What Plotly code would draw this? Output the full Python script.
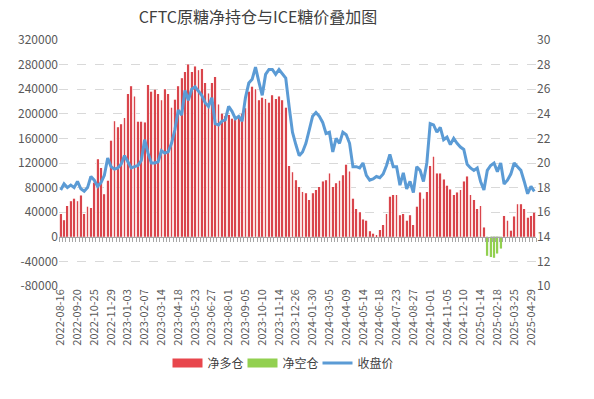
import plotly.graph_objects as go

# ---- data ----
date_labels = [
    "2022-08-16", "2022-09-20", "2022-10-25", "2022-11-29", "2023-01-03",
    "2023-02-07", "2023-03-14", "2023-04-18", "2023-05-23", "2023-06-27",
    "2023-08-01", "2023-09-05", "2023-10-10", "2023-11-14", "2023-12-26",
    "2024-01-30", "2024-03-05", "2024-04-09", "2024-05-14", "2024-06-18",
    "2024-07-23", "2024-08-27", "2024-10-01", "2024-11-05", "2024-12-10",
    "2025-01-14", "2025-02-18", "2025-03-25", "2025-04-29",
]

net_position = [
    37000, 27000, 50000, 58000, 62000, 58000, 67000, 37000, 49000, 47000,
    88000, 126000, 112000, 69000, 91000, 156000, 188000, 178000, 183000, 193000,
    232000, 245000, 228000, 187000, 187000, 186000, 247000, 236000, 239000, 232000,
    222000, 240000, 232000, 210000, 223000, 245000, 258000, 268000, 280000, 268000,
    277000, 271000, 273000, 250000, 233000, 250000, 260000, 215000, 200000, 196000,
    198000, 192000, 190000, 195000, 200000, 209000, 236000, 244000, 240000, 222000,
    226000, 224000, 218000, 230000, 224000, 228000, 222000, 210000, 115000, 105000,
    92000, 81000, 73000, 71000, 60000, 71000, 76000, 81000, 90000, 92000,
    103000, 81000, 87000, 91000, 100000, 117000, 106000, 62000, 45000, 40000,
    28000, 26000, 9000, 5000, 2000, 11000, 19000, 37000, 65000, 68000,
    68000, 35000, 37000, 26000, 35000, 19000, 49000, 72000, 62000, 73000,
    115000, 130000, 103000, 103000, 93000, 83000, 77000, 68000, 72000, 76000,
    90000, 98000, 68000, 60000, 45000, 50000, 15000, -31000, -33000, -34000,
    -27000, -19000, 34000, 26000, 10000, 33000, 53000, 53000, 45000, 31000,
    34000, 39000,
]

close_price = [
    17.8, 18.3, 18.0, 18.2, 18.0, 18.5, 17.9, 17.7, 18.0, 18.9,
    18.6, 18.1, 18.4, 19.0, 20.4, 19.7, 19.5, 19.6, 19.9, 20.6,
    20.1, 19.6, 19.7, 19.8, 20.2, 21.9, 20.8, 20.0, 20.0, 20.1,
    21.0, 20.8, 20.9, 21.6, 22.7, 24.3, 23.9, 25.9, 25.1, 26.0,
    26.2, 25.8, 25.5, 24.9, 24.6, 25.3, 23.2, 23.1, 23.4, 23.5,
    24.6, 24.2, 23.6, 23.8, 23.4, 25.3, 26.5, 26.8, 27.8, 26.6,
    25.5, 27.2, 27.6, 27.6, 27.2, 27.6, 27.2, 26.9, 24.6, 22.5,
    21.5, 20.6, 20.9, 21.6, 22.7, 23.8, 24.1, 23.8, 23.3, 22.4,
    22.5, 20.9, 22.0, 21.6, 22.5, 22.3, 21.6, 19.7, 19.7, 19.6,
    20.0, 19.0, 18.6, 18.7, 18.9, 18.8, 19.1, 19.8, 20.7, 19.7,
    19.7, 18.2, 19.2, 17.9, 18.5, 17.6, 19.7, 19.4, 18.5, 20.0,
    23.2, 23.1, 22.5, 22.9, 21.9, 22.1, 21.5, 22.0, 21.6, 21.3,
    21.1, 19.9, 19.6, 19.4, 19.6, 18.5, 17.8, 19.4, 19.8, 20.0,
    19.3, 20.0, 18.3, 18.6, 19.1, 20.0, 19.7, 19.4, 18.5, 17.5,
    18.1, 17.7,
]

left_ticks = [-80000, -40000, 0, 40000, 80000, 120000, 160000, 200000, 240000, 280000, 320000]
right_ticks = [10, 12, 14, 16, 18, 20, 22, 24, 26, 28, 30]

# ---- derived ----
n = len(net_position)
idx = list(range(n))
long_part = [v if v > 0 else None for v in net_position]
short_part = [v if v < 0 else None for v in net_position]
label_idx = list(range(0, n, 5))[:len(date_labels)]

FONT = "Noto Sans CJK SC, Microsoft YaHei, sans-serif"
RED, RED_PALE = "#d9454c", "#fadcdc"
GREEN, GREEN_PALE = "#92d050", "#e6f2da"
BLUE = "#5b9bd5"

W, H = 594, 399
PL, PR, PT, PB = 59, 536, 40, 286   # plot box in page px

fig = go.Figure()
# pale background part of each bar
fig.add_bar(x=idx, y=long_part, width=0.92, marker=dict(color=RED_PALE, line_width=0),
            showlegend=False, hoverinfo="skip")
fig.add_bar(x=idx, y=short_part, width=0.92, marker=dict(color=GREEN_PALE, line_width=0),
            showlegend=False, hoverinfo="skip")
# sharp coloured core of each bar
fig.add_bar(x=idx, y=long_part, width=0.24, name="净多仓", showlegend=False,
            marker=dict(color=RED, line_width=0))
fig.add_bar(x=idx, y=short_part, width=0.24, name="净空仓", showlegend=False,
            marker=dict(color=GREEN, line_width=0))
fig.add_scatter(x=idx, y=close_price, name="收盘价", mode="lines", showlegend=False,
                line=dict(color=BLUE, width=3), xaxis="x2", yaxis="y2")

# legend entries (wide colour swatches like the reference)
fig.add_scatter(x=[None], y=[None], mode="lines", name="净多仓",
                line=dict(color="#e8464c", width=9))
fig.add_scatter(x=[None], y=[None], mode="lines", name="净空仓",
                line=dict(color=GREEN, width=9))
fig.add_scatter(x=[None], y=[None], mode="lines", name="收盘价",
                line=dict(color=BLUE, width=3))

fig.update_layout(
    width=W, height=H,
    margin=dict(l=PL, r=W - PR, t=PT, b=H - PB, autoexpand=False),
    paper_bgcolor="white", plot_bgcolor="white",
    barmode="overlay",
    font=dict(family=FONT, color="#595959", size=11),
    title=dict(text="CFTC原糖净持仓与ICE糖价叠加图",
               x=258 / W, xref="container", xanchor="center",
               y=1 - 17.5 / H, yref="container", yanchor="middle",
               font=dict(family=FONT, size=16, color="#404040")),
    xaxis=dict(range=[-0.5, n - 0.5], tickmode="array", tickvals=label_idx,
               ticktext=date_labels, tickangle=-90, showgrid=False,
               showline=False, ticks="", zeroline=False, automargin=False,
               tickfont=dict(size=11, color="#595959")),
    xaxis2=dict(overlaying="x", range=[-0.5, n - 0.5], anchor="free", position=0.2,
                showline=True, linecolor="#a6a6a6", linewidth=1,
                ticks="outside", ticklen=4, tickcolor="#a6a6a6",
                tickmode="array", tickvals=[i - 0.5 for i in range(n + 1)],
                showticklabels=False, showgrid=False, zeroline=False),
    yaxis=dict(range=[-80000, 320000], tickmode="array", tickvals=left_ticks,
               ticktext=[str(v) for v in left_ticks], automargin=False,
               showgrid=True, gridcolor="#d9d9d9", griddash="dash", gridwidth=1,
               zeroline=False, showline=False, tickfont=dict(size=12, color="#595959")),
    yaxis2=dict(overlaying="y", side="right", anchor="x2", range=[10, 30],
                tickmode="array", tickvals=right_ticks,
                ticktext=[str(v) for v in right_ticks], automargin=False,
                showgrid=False, zeroline=False, showline=False,
                tickfont=dict(size=12, color="#595959")),
    legend=dict(orientation="h", x=(280 - PL) / (PR - PL), xanchor="center",
                y=(PB - 363) / (PB - PT), yanchor="middle",
                font=dict(family=FONT, size=12, color="#404040"),
                traceorder="normal", itemwidth=30, entrywidth=30),
)

# remove the browser's default 8px page margin so the figure sits at (0, 0)
fig.write_html("out.html",
               config={"displayModeBar": False},
               post_script="document.body.style.margin='0';document.body.style.padding='0';")
